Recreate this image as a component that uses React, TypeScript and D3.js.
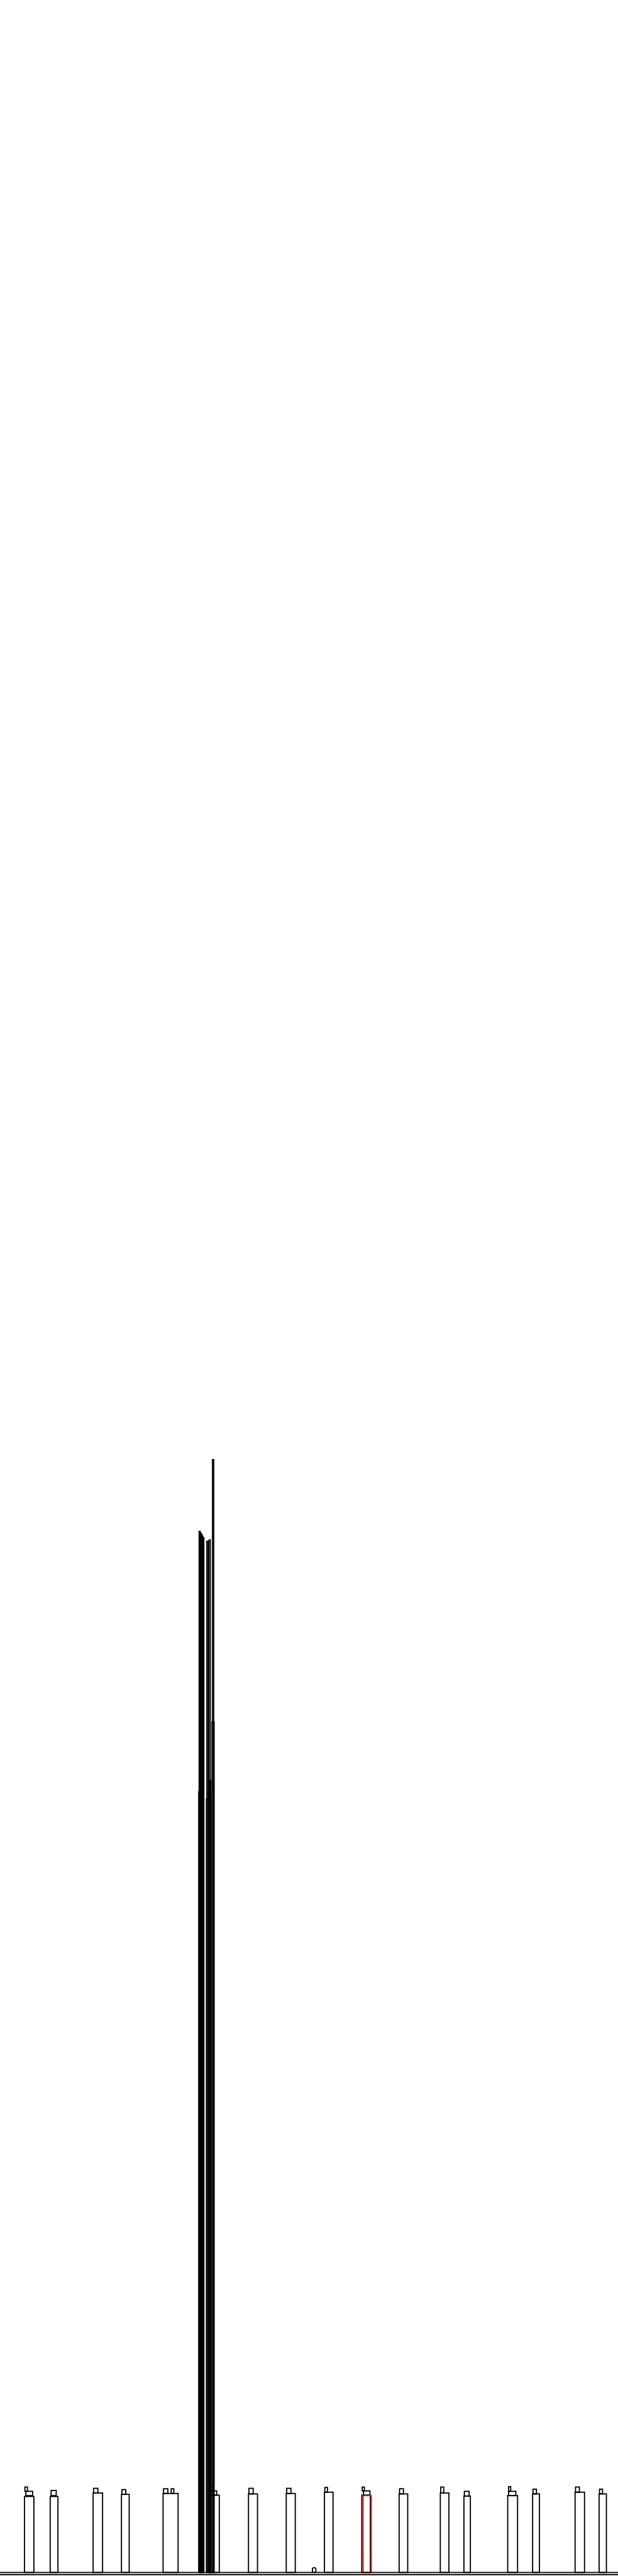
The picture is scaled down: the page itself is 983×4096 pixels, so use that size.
import React, { useEffect, useRef } from "react"
import * as d3 from "d3"

// bottom row of outlined bars
const barStart = [57, 117, 217, 283, 380, 488, 579, 667, 756, 843, 930, 1026, 1081, 1183, 1241, 1340, 1396]
const barEnd = [79, 135, 239, 301, 415, 511, 600, 688, 776, 863, 950, 1046, 1096, 1206, 1257, 1362, 1413]
const barHeight = [177, 177, 185, 182, 184, 180, 183, 184, 187, 180, 183, 185, 178, 179, 183, 187, 183]

// little caps sitting on top of the bars
const capStart = [58, 60, 119, 218, 284, 381, 399, 488, 488, 580, 668, 757, 844, 847, 931, 1027, 1082, 1185, 1185, 1242, 1341, 1397]
const capEnd = [64, 76, 131, 228, 293, 391, 405, 498, 505, 590, 678, 763, 849, 862, 940, 1034, 1093, 1190, 1202, 1250, 1350, 1404]
const capLow = [189, 179, 179, 185, 182, 184, 184, 190, 180, 183, 184, 187, 190, 180, 183, 185, 178, 189, 179, 183, 187, 183]
const capHigh = [199, 189, 191, 196, 193, 195, 195, 201, 190, 196, 196, 198, 199, 190, 195, 199, 189, 200, 189, 194, 199, 194]

// the tall thin ones
const clusterStart = [464, 466.5, 468.7, 470.7, 472.7, 463, 482, 487, 481, 488, 495, 494]
const clusterEnd = [466.5, 468.7, 470.7, 472.7, 475, 470, 485, 490, 491, 491, 498, 499]
const clusterHeight = [2425, 2421, 2418, 2414, 2410, 1819, 2402, 2405, 1802, 1845, 2592, 1981]

// tiny one + highlighted one
const smallBar = { start: 728, end: 736, height: 11 }
const highlight = { start: 846, end: 865, height: 179 }

const W = 983
const H = 4096
const k = W / 1440

function App() {
    const ref = useRef(null)

    useEffect(() => {
        const node = ref.current
        d3.select(node).selectAll("*").remove()

        const svg = d3.select(node)
            .append("svg")
            .attr("width", W)
            .attr("height", H)
            .style("display", "block")

        const x = d3.scaleLinear().domain([0, 1440]).range([0, 1440 * k])
        const y = d3.scaleLinear().domain([0, 5992]).range([5992 * k, 0])
        const sw = 1.85

        const drawRects = (starts, ends, lows, highs, color, cls) => {
            svg.append("g")
                .attr("class", cls)
                .selectAll("rect")
                .data(starts)
                .enter()
                .append("rect")
                .attr("x", (d) => x(d))
                .attr("width", (d, i) => x(ends[i]) - x(d))
                .attr("y", (d, i) => y(highs[i]))
                .attr("height", (d, i) => y(lows[i]) - y(highs[i]))
                .attr("fill", "none")
                .attr("stroke", color)
                .attr("stroke-width", sw)
        }

        drawRects(clusterStart, clusterEnd, clusterHeight.map(() => 0), clusterHeight, "#000", "cluster")
        drawRects(barStart, barEnd, barHeight.map(() => 0), barHeight, "#000", "bars")
        drawRects(capStart, capEnd, capLow, capHigh, "#000", "caps")

        svg.append("rect")
            .attr("x", x(smallBar.start))
            .attr("width", x(smallBar.end) - x(smallBar.start))
            .attr("y", y(smallBar.height))
            .attr("height", y(0) - y(smallBar.height))
            .attr("rx", 2)
            .attr("fill", "none")
            .attr("stroke", "#000")
            .attr("stroke-width", sw)

        svg.append("rect")
            .attr("x", x(highlight.start))
            .attr("width", x(highlight.end) - x(highlight.start))
            .attr("y", y(highlight.height))
            .attr("height", y(0) - y(highlight.height))
            .attr("fill", "none")
            .attr("stroke", "#ff0000")
            .attr("stroke-width", sw)

        // double base line
        svg.selectAll("line.base")
            .data([0, -5])
            .enter()
            .append("line")
            .attr("class", "base")
            .attr("x1", 0)
            .attr("x2", W)
            .attr("y1", (d) => y(d))
            .attr("y2", (d) => y(d))
            .attr("stroke", "#000")
            .attr("stroke-width", sw)
    }, [])

    return (
        <div ref={ref} style={{ position: "absolute", left: 0, top: 0, background: "#fff" }}></div>
    )
}

export default App
